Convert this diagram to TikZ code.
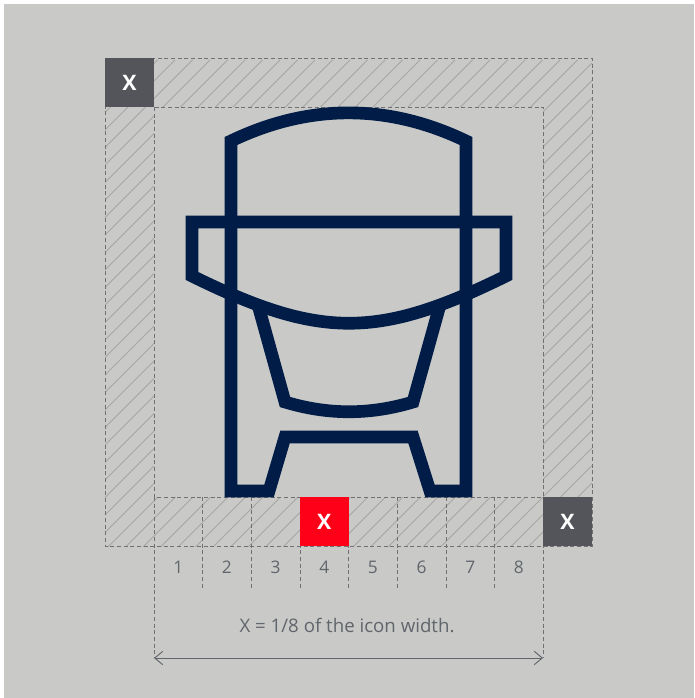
\documentclass[tikz,border=0pt]{standalone}
\usepackage{fontspec}
\setmainfont{Open Sans}
\usepackage{tikz}
\usetikzlibrary{arrows.meta,positioning}
\definecolor{navy}{HTML}{001C47}
\definecolor{panel}{HTML}{C9CAC7}
\definecolor{slate}{HTML}{53555A}
\definecolor{alert}{HTML}{FF0019}
\definecolor{guide}{HTML}{6F7173}
\definecolor{hatchline}{HTML}{A6A7A5}
\definecolor{labeltext}{HTML}{61656C}

\begin{document}
\begin{tikzpicture}[
  x=0.75pt,y=-0.75pt,
  xcell/.style={minimum size=36.6pt,inner sep=0pt,text=white,font=\fontsize{16}{16}\selectfont\bfseries},
  guideline/.style={densely dashed,guide,line width=0.7pt},
  hatch/.style={hatchline,line width=0.6pt},
  icon/.style={navy,line width=9.5pt,miter limit=10},
  num/.style={text=labeltext,font=\fontsize{13}{13}\selectfont},
  arr/.style={{Straight Barb[length=6pt,width=10pt]}-{Straight Barb[length=6pt,width=10pt]},labeltext,line width=0.7pt}
]
\useasboundingbox (0,0) rectangle (694,698);
\fill[panel] (4,4) rectangle (694,698);
% hatching
\begin{scope}
\clip (105,58) rectangle (592,546);
\foreach \i in {0,...,60}
  \draw[hatch] (105+17.5*\i-500,560) -- (105+17.5*\i,60);
\end{scope}
\fill[panel] (154,107) rectangle (543,497);
% grid
\draw[guideline] (105,58) rectangle (592,546);
\draw[guideline] (154,107) rectangle (543,497);
\coordinate (al) at (154,658);
\coordinate (ar) at (543,658);
\draw[guideline] (154,497) -- (al);
\draw[guideline] (543,497) -- (ar);
\foreach \i/\x in {1/178.3,2/226.9,3/275.6,4/324.3,5/372.9,6/421.6,7/470.3,8/518.9}{
  \node[num] (n\i) at (\x,567) {\i};
}
\foreach \x in {202.6,251.3,300,348.6,397.3,446,494.6}
  \draw[guideline] (\x,497) -- (\x,590);
% icon
\draw[icon] (258.3,306) -- (285,402) .. controls (328,415) and (370,415) .. (413,402) -- (439.7,306);
\draw[icon] (231,491) -- (231,141) .. controls (309,103.5) and (388,103.5) .. (466,141) -- (466,491) -- (430,491) -- (413,437) -- (285,437) -- (269,491) -- cycle;
\draw[icon] (192,222) -- (506,222) -- (506,276) .. controls (378,339) and (320,339) .. (192,276) -- cycle;
% x squares
\node[xcell,fill=slate] (xtop) at (129.5,82.5) {X};
\node[xcell,fill=alert] (xmid) at (324.3,521.5) {X};
\node[xcell,fill=slate] (xend) at (567.5,521.5) {X};
% width
\node[text=labeltext,font=\fontsize{14}{14}\selectfont] (wtext) at (347,625) {X = 1/8 of the icon width.};
\draw[arr] (al) -- (ar);
\end{tikzpicture}
\end{document}
